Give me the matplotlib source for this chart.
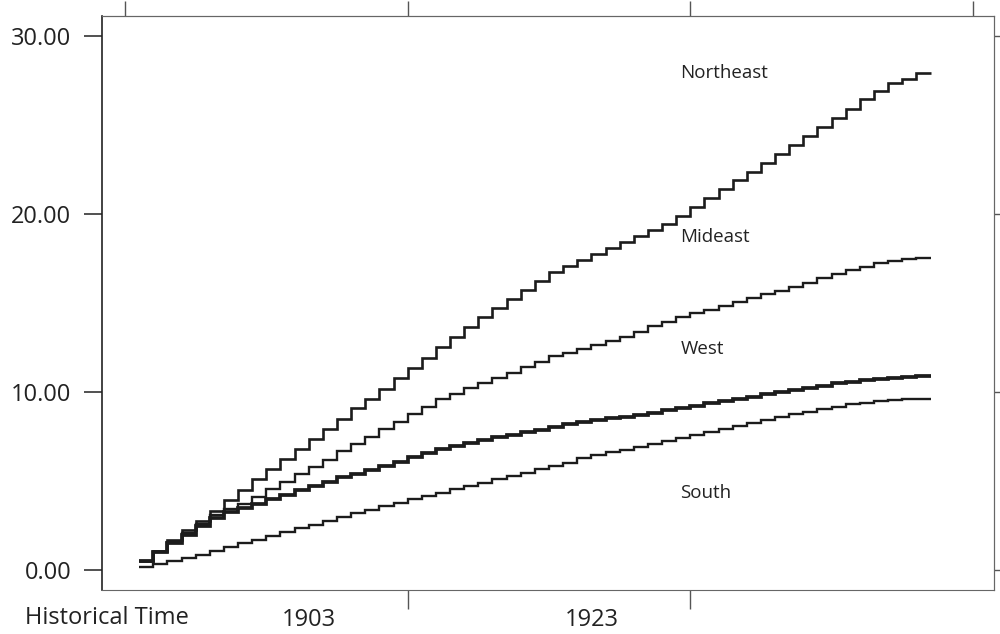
import matplotlib
matplotlib.use('Agg')
import matplotlib.pyplot as plt
import numpy as np

plt.rcParams['font.family'] = ['Open Sans', 'DejaVu Sans']

# one value per year, 1891..1946 (each step holds for one year)
years = list(range(1891, 1948))

northeast = [0.50, 1.09, 1.69, 2.25, 2.77, 3.33, 3.93, 4.49, 5.09, 5.66,
             6.22, 6.78, 7.34, 7.90, 8.48, 9.08, 9.61, 10.17, 10.77, 11.33,
             11.93, 12.51, 13.07, 13.63, 14.19, 14.70, 15.22, 15.73, 16.24, 16.72,
             17.08, 17.42, 17.75, 18.07, 18.41, 18.74, 19.10, 19.44, 19.90, 20.41,
             20.92, 21.39, 21.91, 22.38, 22.88, 23.37, 23.88, 24.38, 24.87, 25.38,
             25.90, 26.44, 26.93, 27.38, 27.58, 27.94]
mideast = [0.50, 1.03, 1.58, 2.10, 2.60, 3.10, 3.45, 3.70, 4.12, 4.54,
           4.95, 5.37, 5.78, 6.20, 6.66, 7.06, 7.49, 7.90, 8.33, 8.76,
           9.18, 9.59, 9.87, 10.21, 10.52, 10.77, 11.09, 11.39, 11.70, 12.02,
           12.21, 12.42, 12.64, 12.88, 13.11, 13.35, 13.71, 13.95, 14.19, 14.42,
           14.61, 14.83, 15.08, 15.26, 15.51, 15.69, 15.92, 16.14, 16.39, 16.63,
           16.85, 17.04, 17.23, 17.38, 17.47, 17.55]
west = [0.50, 1.00, 1.50, 1.97, 2.47, 2.95, 3.25, 3.48, 3.71, 3.97,
        4.21, 4.49, 4.72, 4.96, 5.21, 5.39, 5.62, 5.84, 6.09, 6.33,
        6.55, 6.78, 6.97, 7.15, 7.30, 7.45, 7.58, 7.73, 7.87, 8.05,
        8.18, 8.33, 8.43, 8.52, 8.60, 8.71, 8.84, 8.99, 9.12, 9.23,
        9.36, 9.49, 9.61, 9.74, 9.87, 9.98, 10.11, 10.24, 10.35, 10.49,
        10.58, 10.67, 10.73, 10.80, 10.86, 10.88]
south = [0.19, 0.32, 0.52, 0.67, 0.84, 1.09, 1.27, 1.52, 1.70, 1.91,
         2.12, 2.34, 2.53, 2.75, 2.99, 3.18, 3.38, 3.58, 3.78, 3.97,
         4.16, 4.34, 4.53, 4.72, 4.90, 5.09, 5.28, 5.47, 5.66, 5.84,
         6.03, 6.27, 6.46, 6.65, 6.76, 6.93, 7.08, 7.27, 7.40, 7.58,
         7.77, 7.92, 8.09, 8.24, 8.43, 8.58, 8.75, 8.89, 9.04, 9.17,
         9.31, 9.40, 9.49, 9.55, 9.59, 9.60]

labels = ['Northeast', 'Mideast', 'West', 'South']
label_pos = [(1929.3, 27.9), (1929.3, 18.7), (1929.3, 12.4), (1929.3, 4.35)]

y_ticks = [0, 10, 20, 30]
top_ticks = [1890, 1910, 1930, 1950]
bottom_ticks = [1910, 1930]
year_labels = [1903, 1923]

fig = plt.figure(figsize=(10, 6.34), dpi=100)
ax = fig.add_axes([0.102, 0.0694, 0.892, 0.9054])

line_col = '#1c1c1c'
for series, lw in zip([northeast, mideast, west, south], [1.9, 1.7, 2.7, 1.7]):
    ax.stairs(series, years, baseline=None, color=line_col, linewidth=lw)

for text, (tx, ty) in zip(labels, label_pos):
    ax.text(tx, ty, text, fontsize=13.5, color='#222222', va='center', ha='left')

ax.set_xlim(1888.37, 1951.49)
ax.set_ylim(-1.12, 31.12)

ax.set_yticks(y_ticks)
ax.set_yticklabels(['%.2f' % v for v in y_ticks], fontsize=17, color='#222222')
ax.tick_params(axis='y', direction='out', length=13, width=1.2, pad=9, colors='#333333',
               labelcolor='#222222')

ax.set_xticks(bottom_ticks)
ax.set_xticklabels(['', ''])
ax.set_xticks(year_labels, minor=True)
ax.set_xticklabels([str(v) for v in year_labels], minor=True, fontsize=17, color='#222222')
ax.tick_params(axis='x', which='major', direction='out', length=14, width=1.0, colors='#555555')
ax.tick_params(axis='x', which='minor', length=0, pad=13, labelcolor='#222222')

top = ax.secondary_xaxis('top')
top.set_xticks(top_ticks)
top.set_xticklabels([''] * len(top_ticks))
top.tick_params(direction='out', length=11, width=1.0, colors='#555555')
top.spines['top'].set_color('#666666')

right = ax.secondary_yaxis('right')
right.set_yticks(y_ticks)
right.set_yticklabels([''] * len(y_ticks))
right.tick_params(direction='out', length=7, width=1.0, colors='#555555')
right.spines['right'].set_color('#666666')

ax.spines['left'].set_color('#222222')
ax.spines['left'].set_linewidth(1.2)
for side in ['top', 'right', 'bottom']:
    ax.spines[side].set_color('#666666')

fig.text(0.107, 0.0252, 'Historical Time', fontsize=17, color='#222222', ha='center', va='center')

fig.savefig('out.png', dpi=100)
